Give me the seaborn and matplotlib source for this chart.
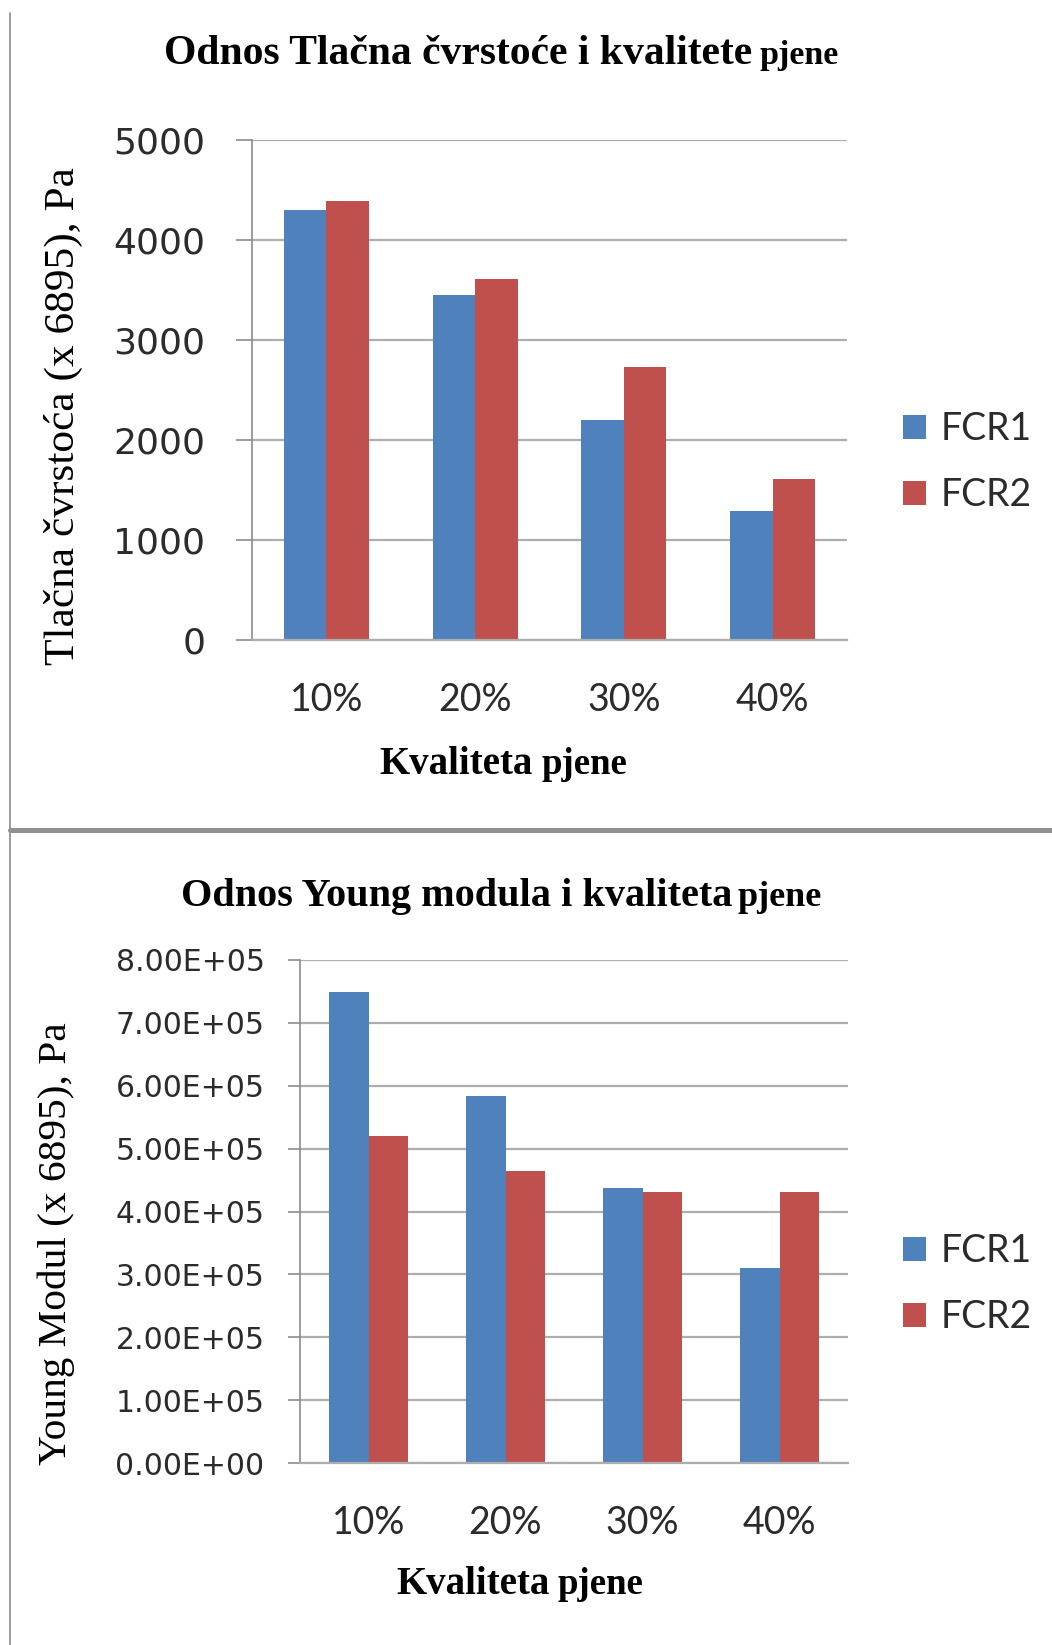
import numpy as np
import pandas as pd
import matplotlib
matplotlib.use("Agg")
import matplotlib.pyplot as plt
import seaborn as sns
from matplotlib.lines import Line2D
from matplotlib.ticker import FuncFormatter
from matplotlib.transforms import Affine2D

# data
categories = ['10%', '20%', '30%', '40%']
series_names = ['FCR1', 'FCR2']
fcr1_strength = [4300, 3450, 2200, 1290]
fcr2_strength = [4390, 3605, 2725, 1610]
fcr1_young = [7.49e5, 5.84e5, 4.37e5, 3.11e5]
fcr2_young = [5.20e5, 4.64e5, 4.31e5, 4.31e5]

# some config
W, H = 1052, 1645
BLUE = '#4F81BD'
RED = '#C0504D'
GRID = '#ADADAD'
AXIS = '#8C8C8C'
TXT = '#2b2b2b'
SERIF = 'Liberation Serif'
SANS = 'Lato'

sns.set_theme(style="white")
plt.rcParams['font.family'] = [SANS, 'DejaVu Sans']

fig = plt.figure(figsize=(W / 100, H / 100), dpi=100)
# pixel coordinates measured from the top-left corner
px = Affine2D().scale(1 / W, -1 / H).translate(0, 1) + fig.transFigure


def long_df(a, b):
    return pd.DataFrame({
        'kvaliteta': categories * 2,
        'value': list(a) + list(b),
        'serija': [series_names[0]] * len(a) + [series_names[1]] * len(b),
    })


def draw_panel(box, df, ymax, step, fmt, ytick_size, tick_len, tick_pad, legend_y):
    left, top, right, bottom = box
    ax = fig.add_axes([left / W, 1 - bottom / H, (right - left) / W, (bottom - top) / H])
    sns.barplot(data=df, x='kvaliteta', y='value', hue='serija',
                palette=[BLUE, RED], saturation=1, width=0.57, gap=0,
                linewidth=0, ax=ax, legend=True)
    ax.set_xlim(-0.5, 3.5)
    ax.set_ylim(0, ymax)
    ax.set_yticks(np.arange(0, ymax + step / 2, step))
    ax.yaxis.set_major_formatter(FuncFormatter(fmt))
    ax.set_axisbelow(True)
    ax.grid(axis='y', color=GRID, lw=1.6)
    ax.grid(axis='x', visible=False)
    for s in ['top', 'right']:
        ax.spines[s].set_visible(False)
    ax.spines['left'].set_color(AXIS)
    ax.spines['left'].set_linewidth(1.2)
    ax.spines['bottom'].set_color(GRID)
    ax.spines['bottom'].set_linewidth(1.6)
    ax.tick_params(axis='y', length=tick_len, width=1.2, color=AXIS,
                   pad=tick_pad, labelsize=ytick_size, labelcolor=TXT, left=True)
    for lab in ax.get_yticklabels():
        lab.set_family('DejaVu Sans')
    ax.tick_params(axis='x', length=0, pad=30, labelsize=27, labelcolor=TXT)
    ax.set_xlabel('')
    ax.set_ylabel('')

    handles, labels = ax.get_legend_handles_labels()
    ax.get_legend().remove()
    ax.legend(handles, labels, loc='center left',
              bbox_to_anchor=(903 / W, 1 - legend_y / H),
              bbox_transform=fig.transFigure, frameon=False,
              fontsize=27, handlelength=0.6, handleheight=0.6,
              handletextpad=0.4, labelspacing=0.8, borderpad=0,
              borderaxespad=0, labelcolor=TXT)
    return ax


# top panel: compressive strength
ax1 = draw_panel((252, 139.5, 847, 640), long_df(fcr1_strength, fcr2_strength),
                 5000, 1000, lambda v, p: f'{v:.0f}', 26, 11.5, 22, 462)
# bottom panel: Young modulus
ax2 = draw_panel((300, 959.6, 848, 1463.4), long_df(fcr1_young, fcr2_young),
                 8e5, 1e5, lambda v, p: f'{v:.2E}', 21.5, 8.5, 17, 1284)

# titles and axis labels (serif, placed in pixels)
def serif_text(x, y, s, size, weight='bold', **kw):
    fig.text(x, y, s, transform=px, fontsize=size, fontweight=weight,
             family=[SERIF, 'DejaVu Serif'], color='black', **kw)

serif_text(164, 64, 'Odnos Tlačna čvrstoće i kvalitete', 30, ha='left', va='baseline')
serif_text(760, 64, 'pjene', 24.5, ha='left', va='baseline')
serif_text(379, 774, 'Kvaliteta', 28, ha='left', va='baseline')
serif_text(542, 774, 'pjene', 26.5, ha='left', va='baseline')
serif_text(63, 416, 'Tlačna čvrstoća (x 6895), Pa', 31.3, weight='normal',
           rotation=90, ha='center', va='center')

serif_text(181, 906, 'Odnos Young modula i kvaliteta', 29, ha='left', va='baseline')
serif_text(737, 906, 'pjene', 26, ha='left', va='baseline')
serif_text(396, 1594, 'Kvaliteta', 28, ha='left', va='baseline')
serif_text(557, 1594, 'pjene', 26.5, ha='left', va='baseline')
serif_text(56, 1244, 'Young Modul (x 6895), Pa', 29.7, weight='normal',
           rotation=90, ha='center', va='center')

# page frame: left border and divider between the two charts
fig.add_artist(Line2D([10, 10], [13, H], transform=px, color='#8a8a8a', lw=1.2))
fig.add_artist(Line2D([10, W], [830, 830], transform=px, color='#909090', lw=3.6))

fig.savefig('out.png', dpi=100)
